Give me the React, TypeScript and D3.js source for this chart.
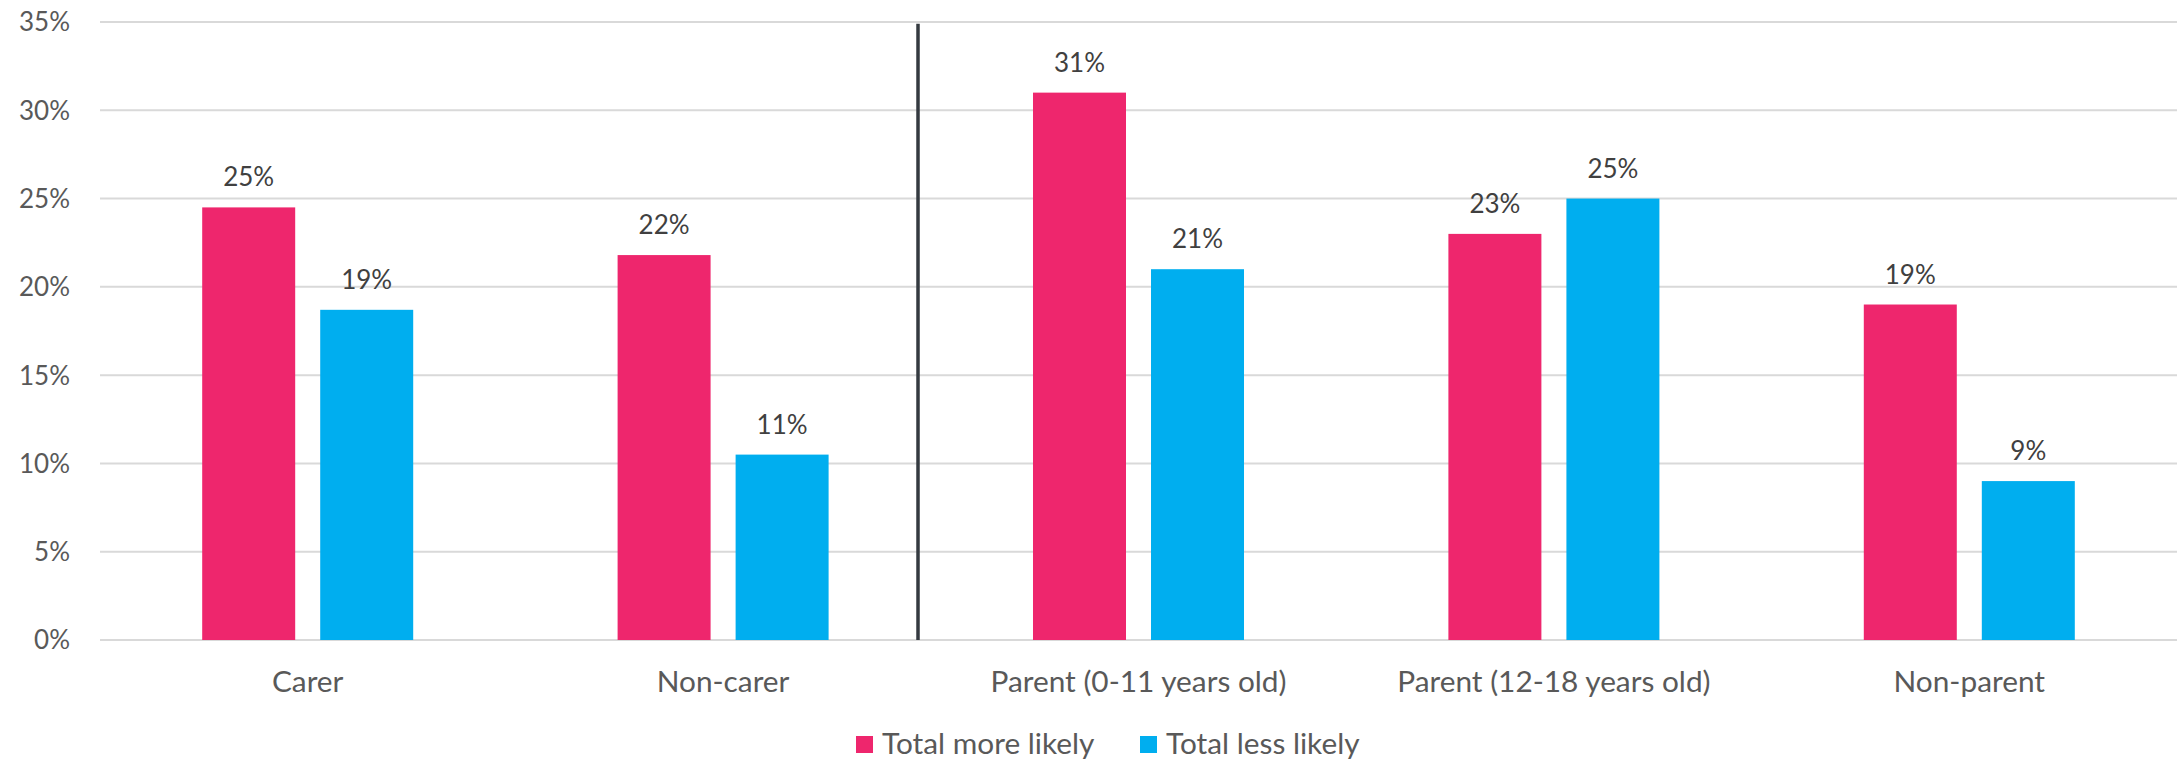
import React from "react";
import * as d3 from "d3";

const categories = ["Carer", "Non-carer", "Parent (0-11 years old)", "Parent (12-18 years old)", "Non-parent"];
const seriesNames = ["Total more likely", "Total less likely"];
const moreLikely = [24.5, 21.8, 31.0, 23.0, 19.0];
const lessLikely = [18.7, 10.5, 21.0, 25.0, 9.0];
const moreLabels = ["25%", "22%", "31%", "23%", "19%"];
const lessLabels = ["19%", "11%", "21%", "25%", "9%"];
const yTicks = [0, 5, 10, 15, 20, 25, 30, 35];
const colors = ["#EE266D", "#00AEEF"];

const W = 2178;
const H = 760;
const FONT = "Lato, 'Open Sans', sans-serif";

export default function App() {
  const left = 100, right = 2177, top = 22, bottom = 640;
  const x0 = d3.scaleBand<string>().domain(categories).range([left, right]).paddingInner(0).paddingOuter(0);
  const x1 = d3.scaleBand<string>().domain(seriesNames).range([0, x0.bandwidth()]).paddingInner(0.212).paddingOuter(0.866);
  const y = d3.scaleLinear().domain([0, 35]).range([bottom, top]);
  const values = [moreLikely, lessLikely];
  const labels = [moreLabels, lessLabels];
  const sepX = 918;
  const numSize = 26;
  const txtSize = 29.8;

  return (
    <svg width={W} height={H} style={{ position: "absolute", left: 0, top: 0, background: "#fff" }} fontFamily={FONT}>
      <rect x={0} y={0} width={W} height={H} fill="#fff" />
      {yTicks.map((t) => (
        <g key={t}>
          <line x1={left} x2={right} y1={y(t)} y2={y(t)} stroke="#d9d9d9" strokeWidth={2} />
          <text x={70} y={y(t)} dy="0.36em" textAnchor="end" fontSize={numSize} fill="#595959">{t}%</text>
        </g>
      ))}
      <line x1={sepX} x2={sepX} y1={y(34.9)} y2={bottom} stroke="#343a40" strokeWidth={3.5} />
      {categories.map((c, i) => (
        <g key={c}>
          {seriesNames.map((s, j) => {
            const bx = (x0(c) as number) + (x1(s) as number);
            const v = values[j][i];
            return (
              <g key={s}>
                <rect x={bx} y={y(v)} width={x1.bandwidth()} height={bottom - y(v)} fill={colors[j]} />
                <text x={bx + x1.bandwidth() / 2} y={y(v) - 21} textAnchor="middle" fontSize={numSize} fill="#404040">{labels[j][i]}</text>
              </g>
            );
          })}
          <text x={(x0(c) as number) + x0.bandwidth() / 2} y={692} textAnchor="middle" fontSize={txtSize} fill="#595959">{c}</text>
        </g>
      ))}
      <g>
        <rect x={856} y={736} width={17} height={17} fill={colors[0]} />
        <text x={882} y={754} fontSize={txtSize} fill="#595959">{seriesNames[0]}</text>
        <rect x={1140} y={736} width={17} height={17} fill={colors[1]} />
        <text x={1166} y={754} fontSize={txtSize} fill="#595959">{seriesNames[1]}</text>
      </g>
    </svg>
  );
}
